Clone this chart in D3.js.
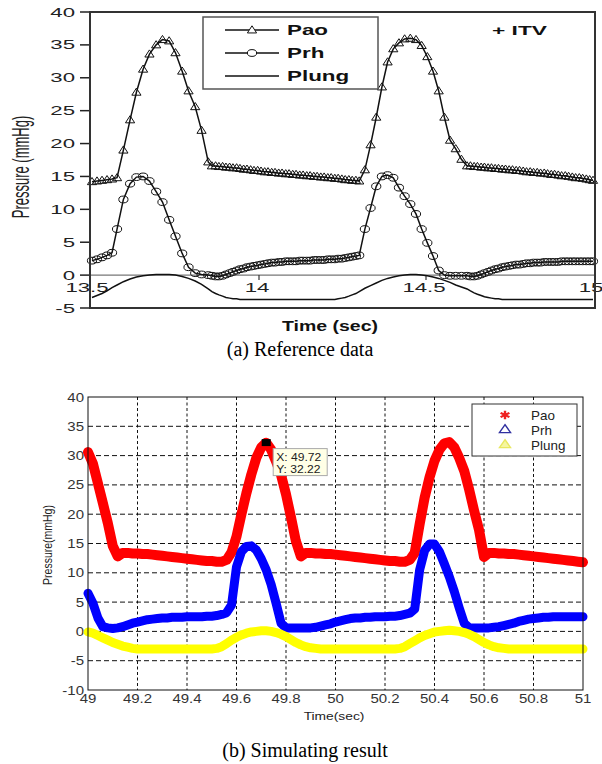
<!DOCTYPE html>
<html>
<head>
<meta charset="utf-8">
<script src="https://cdn.jsdelivr.net/npm/d3@7"></script>
<style>
  body { margin: 0; background: #fff; }
  svg { display: block; }
</style>
</head>
<body>
<svg id="chart" width="602" height="764"></svg>
<script>
// ---------------------------------
// Panel (a): reference data
// ---------------------------------
const seriesNames = ["Pao", "Prh", "Plung"];

// sample times (sec) shared by the three traces of panel (a)
const timeA = [
  13.500, 13.515, 13.530, 13.545, 13.560,
  13.575, 13.594, 13.614, 13.633, 13.653, 13.672, 13.692, 13.711, 13.731, 13.750,
  13.770, 13.789, 13.809, 13.828, 13.848,
  13.859, 13.870, 13.880, 13.891, 13.901, 13.912, 13.922, 13.933, 13.943, 13.954,
  13.964, 13.975, 13.985, 13.996, 14.006, 14.017, 14.027, 14.038, 14.048, 14.059,
  14.069, 14.080, 14.090, 14.101, 14.111, 14.122, 14.132, 14.143, 14.153, 14.164,
  14.174, 14.185, 14.195, 14.206, 14.216, 14.227, 14.237, 14.248, 14.258, 14.269,
  14.279, 14.290,
  14.300, 14.317, 14.334, 14.351, 14.368, 14.385, 14.402, 14.419, 14.436, 14.453,
  14.470, 14.487, 14.504, 14.521, 14.538, 14.555, 14.572, 14.589, 14.606, 14.623,
  14.633, 14.644, 14.654, 14.665, 14.675, 14.686, 14.696, 14.707, 14.717, 14.728,
  14.738, 14.749, 14.759, 14.770, 14.780, 14.791, 14.801, 14.812, 14.822, 14.833,
  14.843, 14.854, 14.864, 14.875, 14.885, 14.896, 14.906, 14.917, 14.927, 14.938,
  14.948, 14.959, 14.969, 14.980, 14.990, 15.000
];

const paoA = [
  14.2, 14.3, 14.4, 14.5, 14.6,
  14.8, 19.0, 23.6, 27.8, 31.3, 33.6, 35.0, 35.8, 35.6, 33.8,
  31.0, 28.0, 25.6, 22.0, 17.2,
  16.6, 16.6, 16.5, 16.5, 16.4, 16.4, 16.3, 16.3, 16.2, 16.1,
  16.1, 16.0, 15.9, 15.9, 15.8, 15.7, 15.7, 15.6, 15.6, 15.5,
  15.5, 15.4, 15.4, 15.3, 15.3, 15.2, 15.2, 15.1, 15.1, 15.0,
  15.0, 14.9, 14.9, 14.8, 14.8, 14.7, 14.7, 14.6, 14.5, 14.5,
  14.4, 14.4,
  14.3, 16.0, 19.8, 24.0, 28.6, 32.4, 34.4, 35.3, 35.9, 36.0,
  35.8, 34.9, 33.2, 31.0, 28.0, 24.0, 20.5, 19.2, 17.6, 16.6,
  16.6, 16.5, 16.5, 16.4, 16.4, 16.3, 16.3, 16.2, 16.2, 16.1,
  16.1, 16.0, 16.0, 15.9, 15.9, 15.8, 15.7, 15.7, 15.6, 15.6,
  15.5, 15.5, 15.4, 15.3, 15.3, 15.2, 15.1, 15.1, 15.0, 14.9,
  14.8, 14.8, 14.7, 14.6, 14.5, 14.4
];

const prhA = [
  2.2, 2.4, 2.7, 3.0, 3.4,
  7.0, 11.5, 13.9, 14.9, 15.0, 14.3, 12.7, 11.1, 8.4, 5.9,
  3.3, 1.2, 0.3, 0.1, 0.0,
  -0.1, -0.2, -0.2, -0.1, 0.1, 0.3, 0.5, 0.7, 0.9, 1.0,
  1.2, 1.3, 1.4, 1.5, 1.6, 1.7, 1.8, 1.9, 1.9, 2.0,
  2.0, 2.1, 2.1, 2.1, 2.1, 2.2, 2.2, 2.2, 2.2, 2.3,
  2.3, 2.3, 2.3, 2.4, 2.4, 2.4, 2.5, 2.5, 2.6, 2.7,
  2.8, 2.9,
  3.0, 7.0, 10.2, 13.5, 15.0, 15.2, 14.8, 13.3, 12.0, 10.8,
  9.3, 7.0, 4.9, 2.9, 0.7, 0.0, -0.1, -0.1, -0.1, -0.1,
  -0.2, -0.2, -0.1, 0.1, 0.3, 0.5, 0.7, 0.9, 1.0, 1.2,
  1.3, 1.4, 1.5, 1.6, 1.6, 1.7, 1.8, 1.8, 1.9, 1.9,
  1.9, 2.0, 2.0, 2.0, 2.0, 2.0, 2.1, 2.1, 2.1, 2.1,
  2.1, 2.1, 2.1, 2.1, 2.1, 2.1
];

const plungA = [
  -3.4, -3.1, -2.8, -2.4, -1.9,
  -1.5, -1.0, -0.6, -0.3, -0.1, 0.0, 0.1, 0.1, 0.1, 0.0,
  -0.2, -0.5, -0.9, -1.4, -2.1,
  -2.5, -2.8, -3.0, -3.2, -3.4, -3.5, -3.6, -3.6, -3.7, -3.7,
  -3.7, -3.7, -3.7, -3.7, -3.7, -3.7, -3.7, -3.7, -3.7, -3.7,
  -3.7, -3.7, -3.7, -3.7, -3.7, -3.7, -3.7, -3.7, -3.7, -3.7,
  -3.7, -3.7, -3.7, -3.7, -3.7, -3.7, -3.6, -3.5, -3.4, -3.2,
  -3.0, -2.8,
  -2.5, -2.0, -1.6, -1.2, -0.8, -0.5, -0.3, -0.1, 0.0, 0.1,
  0.1, 0.0, -0.1, -0.3, -0.5, -0.8, -1.1, -1.5, -1.8, -2.1,
  -2.4, -2.7, -2.9, -3.1, -3.3, -3.4, -3.5, -3.6, -3.6, -3.7,
  -3.7, -3.7, -3.7, -3.7, -3.7, -3.7, -3.7, -3.7, -3.7, -3.7,
  -3.7, -3.7, -3.7, -3.7, -3.7, -3.7, -3.7, -3.7, -3.7, -3.7,
  -3.7, -3.7, -3.7, -3.7, -3.7, -3.7
];

const yTicksA = [-5, 0, 5, 10, 15, 20, 25, 30, 35, 40];
const xTicksA = [13.5, 14, 14.5, 15];
const xTickLabelsA = ["13.5", "14", "14.5", "15"];

// ---------------------------------
// Panel (b): simulating result
// ---------------------------------
const timeB = [
  49.00, 49.02, 49.04, 49.06, 49.08, 49.10, 49.12, 49.14, 49.16, 49.18,
  49.20, 49.22, 49.24, 49.26, 49.28, 49.30, 49.32, 49.34, 49.36, 49.38,
  49.40, 49.42, 49.44, 49.46, 49.48, 49.50, 49.52, 49.54, 49.56, 49.58,
  49.60, 49.62, 49.64, 49.66, 49.68, 49.70, 49.72, 49.74, 49.76, 49.78,
  49.80, 49.82, 49.84, 49.86, 49.88, 49.90, 49.92, 49.94, 49.96, 49.98,
  50.00, 50.02, 50.04, 50.06, 50.08, 50.10, 50.12, 50.14, 50.16, 50.18,
  50.20, 50.22, 50.24, 50.26, 50.28, 50.30, 50.32, 50.34, 50.36, 50.38,
  50.40, 50.42, 50.44, 50.46, 50.48, 50.50, 50.52, 50.54, 50.56, 50.58,
  50.60, 50.62, 50.64, 50.66, 50.68, 50.70, 50.72, 50.74, 50.76, 50.78,
  50.80, 50.82, 50.84, 50.86, 50.88, 50.90, 50.92, 50.94, 50.96, 50.98,
  51.00
];

const paoB = [
  30.6, 28.6, 25.3, 21.9, 18.5, 14.6, 12.8, 13.4, 13.4, 13.3,
  13.3, 13.2, 13.2, 13.1, 13.0, 12.9, 12.8, 12.7, 12.6, 12.5,
  12.4, 12.3, 12.2, 12.1, 12.0, 12.0, 11.9, 11.9, 12.2, 13.5,
  16.2, 20.0, 23.6, 26.8, 29.6, 31.4, 32.2, 31.0, 29.0, 26.7,
  23.4, 19.5, 15.4, 12.8, 13.4, 13.4, 13.3, 13.3, 13.2, 13.2,
  13.1, 13.0, 12.9, 12.8, 12.7, 12.6, 12.5, 12.4, 12.3, 12.2,
  12.1, 12.0, 12.0, 11.9, 11.9, 12.2, 13.4, 18.3, 22.8, 26.3,
  29.1, 31.0, 32.1, 32.3, 31.4, 29.6, 27.4, 24.2, 20.6, 17.3,
  12.7, 13.4, 13.4, 13.3, 13.3, 13.2, 13.2, 13.1, 13.0, 12.9,
  12.8, 12.7, 12.6, 12.5, 12.4, 12.3, 12.2, 12.1, 12.0, 11.9,
  11.8
];

const prhB = [
  6.5, 4.8, 2.3, 0.8, 0.6, 0.5, 0.6, 0.8, 1.1, 1.4,
  1.6, 1.8, 2.0, 2.1, 2.2, 2.3, 2.3, 2.4, 2.4, 2.4,
  2.5, 2.5, 2.5, 2.5, 2.6, 2.6, 2.7, 2.9, 3.2, 4.5,
  11.0, 13.6, 14.5, 14.6, 13.9, 12.4, 10.5, 8.0, 4.8, 1.4,
  0.6, 0.6, 0.6, 0.6, 0.6, 0.6, 0.7, 0.9, 1.1, 1.3,
  1.6, 1.8, 2.0, 2.2, 2.3, 2.3, 2.4, 2.4, 2.5, 2.5,
  2.5, 2.6, 2.6, 2.7, 2.9, 3.1, 3.8, 10.5, 13.8, 14.9,
  14.9, 13.6, 11.5, 9.3, 6.8, 4.0, 1.4, 0.6, 0.6, 0.6,
  0.6, 0.6, 0.7, 0.8, 1.0, 1.2, 1.4, 1.7, 1.9, 2.1,
  2.2, 2.3, 2.4, 2.4, 2.5, 2.5, 2.5, 2.5, 2.5, 2.5,
  2.5
];

const plungB = [
  -0.1, -0.3, -0.7, -1.1, -1.5, -1.9, -2.2, -2.5, -2.7, -2.9,
  -3.0, -3.0, -3.0, -3.0, -3.0, -3.0, -3.0, -3.0, -3.0, -3.0,
  -3.0, -3.0, -3.0, -3.0, -3.0, -3.0, -2.9, -2.6, -2.1, -1.5,
  -1.0, -0.6, -0.3, -0.1, 0.0, 0.1, 0.1, 0.0, -0.2, -0.5,
  -0.9, -1.4, -1.9, -2.3, -2.6, -2.8, -2.9, -3.0, -3.0, -3.0,
  -3.0, -3.0, -3.0, -3.0, -3.0, -3.0, -3.0, -3.0, -3.0, -3.0,
  -3.0, -3.0, -3.0, -2.9, -2.6, -2.1, -1.6, -1.1, -0.7, -0.4,
  -0.1, 0.0, 0.1, 0.2, 0.1, 0.0, -0.2, -0.5, -0.9, -1.4,
  -1.9, -2.3, -2.6, -2.8, -2.9, -3.0, -3.0, -3.0, -3.0, -3.0,
  -3.0, -3.0, -3.0, -3.0, -3.0, -3.0, -3.0, -3.0, -3.0, -3.0,
  -3.0
];

const seriesColorsB = ["#ff0000", "#0000ff", "#ffff00"];
const yTicksB = [-10, -5, 0, 5, 10, 15, 20, 25, 30, 35, 40];
const xTicksB = [49, 49.2, 49.4, 49.6, 49.8, 50, 50.2, 50.4, 50.6, 50.8, 51];
const tipT = 49.72, tipV = 32.22;

const SANS = "'Liberation Sans', Arial, Helvetica, sans-serif";
const SERIF = "'Liberation Serif', 'Times New Roman', serif";

const svg = d3.select("#chart");
svg.append("rect").attr("width", 602).attr("height", 764).attr("fill", "#fff");

// stretched text helper (the scanned figure is wider than it is tall)
function addText(parent, x, y, str, o) {
    return parent.append("text")
        .attr("transform", `translate(${x},${y}) scale(${o.sx || 1},1)` + (o.rotate ? " rotate(-90)" : ""))
        .attr("text-anchor", o.anchor || "start")
        .attr("fill", o.fill || "#000")
        .style("font-family", o.family || SANS)
        .style("font-size", o.size + "px")
        .style("font-weight", o.weight || "normal")
        .text(str);
}

drawReference();
drawSimulation();

// captions
addText(svg, 300, 356, "(a) Reference data", { size: 20, anchor: "middle", family: SERIF });
addText(svg, 305, 757, "(b) Simulating result", { size: 20, anchor: "middle", family: SERIF });

// --- PANEL (a) ---
function drawReference() {
    const g = svg.append("g");
    const x = d3.scaleLinear().domain([13.5, 15]).range([92, 593]);
    const y = d3.scaleLinear().domain([-5, 40]).range([308, 12]);
    const left = 90, right = 595, top = 12, bottom = 308;

    // zero line
    g.append("line")
        .attr("x1", left).attr("x2", right)
        .attr("y1", y(0)).attr("y2", y(0))
        .attr("stroke", "#777").attr("stroke-width", 1.2);

    // y axis ticks + labels
    yTicksA.forEach(v => {
        g.append("line").attr("x1", left - 10).attr("x2", left)
            .attr("y1", y(v)).attr("y2", y(v))
            .attr("stroke", "#222").attr("stroke-width", 1.5);
        addText(g, left - 15, y(v) + 4.5, String(v), { size: 12, sx: 1.85, anchor: "end", fill: "#222" });
    });

    // x ticks sit on the zero line
    xTicksA.forEach((t, i) => {
        if (i > 0 && i < xTicksA.length - 1) {
            g.append("line").attr("x1", x(t)).attr("x2", x(t))
                .attr("y1", y(0)).attr("y2", y(0) + 5)
                .attr("stroke", "#333").attr("stroke-width", 1.2);
        }
        addText(g, x(t) - (i === 0 ? 5 : 2), y(0) + 17, xTickLabelsA[i], { size: 12, sx: 1.85, anchor: "middle", fill: "#222" });
    });

    const rows = timeA.map((t, i) => ({ t, pao: paoA[i], prh: prhA[i], plung: plungA[i] }));
    const lineFor = key => d3.line().x(d => x(d.t)).y(d => y(d[key]));

    ["pao", "prh", "plung"].forEach(key => {
        g.append("path")
            .datum(rows)
            .attr("fill", "none")
            .attr("stroke", "#111")
            .attr("stroke-width", 1.5)
            .attr("d", lineFor(key));
    });

    // triangle markers on Pao
    g.selectAll(".tri")
        .data(rows)
        .enter()
        .append("path")
        .attr("d", d => triangle(x(d.t), y(d.pao), 4.6, 4.2))
        .attr("fill", "none")
        .attr("stroke", "#111")
        .attr("stroke-width", 1);

    // circle markers on Prh
    g.selectAll(".circ")
        .data(rows)
        .enter()
        .append("ellipse")
        .attr("cx", d => x(d.t))
        .attr("cy", d => y(d.prh))
        .attr("rx", 4.6).attr("ry", 3.4)
        .attr("fill", "none")
        .attr("stroke", "#111")
        .attr("stroke-width", 1);

    // frame
    g.append("rect")
        .attr("x", left).attr("y", top)
        .attr("width", right - left).attr("height", bottom - top)
        .attr("fill", "none").attr("stroke", "#333").attr("stroke-width", 2);

    // legend
    const lg = g.append("g");
    lg.append("rect").attr("x", 203).attr("y", 17).attr("width", 175).attr("height", 72)
        .attr("fill", "#fff").attr("stroke", "#555").attr("stroke-width", 1.5);
    seriesNames.forEach((name, i) => {
        const ly = 30 + i * 23;
        lg.append("line").attr("x1", 225).attr("x2", 279).attr("y1", ly).attr("y2", ly)
            .attr("stroke", "#111").attr("stroke-width", 1.4);
        if (i === 0) {
            lg.append("path").attr("d", triangle(252, ly, 4.6, 4.2))
                .attr("fill", "#fff").attr("stroke", "#111");
        } else if (i === 1) {
            lg.append("ellipse").attr("cx", 252).attr("cy", ly).attr("rx", 4.6).attr("ry", 3.4)
                .attr("fill", "#fff").attr("stroke", "#111");
        }
        addText(lg, 287, ly + 5, name, { size: 14, sx: 1.6, weight: "bold", fill: "#111" });
    });

    addText(g, 492, 35, "+ ITV", { size: 13, sx: 1.75, weight: "bold", fill: "#111" });
    addText(g, 330, 331, "Time (sec)", { size: 15, sx: 1.3, weight: "bold", anchor: "middle", fill: "#111" });
    addText(g, 29, 167, "Pressure (mmHg)", { size: 13, sx: 1.8, rotate: true, anchor: "middle", fill: "#222" });
}

function triangle(cx, cy, hw, h) {
    return `M${cx},${cy - h}L${cx + hw},${cy + h * 0.7}L${cx - hw},${cy + h * 0.7}Z`;
}

// --- PANEL (b) ---
function drawSimulation() {
    const g = svg.append("g");
    const x = d3.scaleLinear().domain([49, 51]).range([88, 583]);
    const y = d3.scaleLinear().domain([-10, 40]).range([690, 397]);
    const [left, right] = x.range();
    const [bottom, top] = y.range();

    // dashed grid
    xTicksB.slice(1, -1).forEach(t => {
        g.append("line").attr("x1", x(t)).attr("x2", x(t)).attr("y1", top).attr("y2", bottom)
            .attr("stroke", "#111").attr("stroke-width", 1).attr("stroke-dasharray", "3,2.5");
    });
    yTicksB.slice(1, -1).forEach(v => {
        g.append("line").attr("x1", left).attr("x2", right).attr("y1", y(v)).attr("y2", y(v))
            .attr("stroke", "#111").attr("stroke-width", 1).attr("stroke-dasharray", "5,3");
    });

    // tick labels
    yTicksB.forEach(v => {
        addText(g, left - 4, y(v) + 4.5, String(v), { size: 12, sx: 1.25, anchor: "end", fill: "#333" });
    });
    xTicksB.forEach(t => {
        addText(g, x(t), bottom + 13, String(t), { size: 12, sx: 1.25, anchor: "middle", fill: "#333" });
    });

    addText(g, 334, 720, "Time(sec)", { size: 11.5, sx: 1.2, anchor: "middle", fill: "#222" });
    addText(g, 52, 545, "Pressure(mmHg)", { size: 10.5, sx: 1.3, rotate: true, anchor: "middle", fill: "#222" });

    // thick simulated traces
    const seriesB = [paoB, prhB, plungB];
    const widths = [10, 9, 9];
    seriesB.forEach((vals, k) => {
        const pts = timeB.map((t, i) => [t, vals[i]]);
        g.append("path")
            .datum(pts)
            .attr("fill", "none")
            .attr("stroke", seriesColorsB[k])
            .attr("stroke-width", widths[k])
            .attr("stroke-linejoin", "round")
            .attr("stroke-linecap", "round")
            .attr("d", d3.line().x(d => x(d[0])).y(d => y(d[1])));
    });

    // frame
    g.append("rect").attr("x", left).attr("y", top)
        .attr("width", right - left).attr("height", bottom - top)
        .attr("fill", "none").attr("stroke", "#111").attr("stroke-width", 1);

    // data tip
    g.append("rect").attr("x", x(tipT) - 4.5).attr("y", y(tipV) - 3.5)
        .attr("width", 9).attr("height", 7).attr("fill", "#000");
    const tx = x(tipT) + 7, ty = y(tipV) + 6;
    g.append("rect").attr("x", tx).attr("y", ty).attr("width", 54).attr("height", 27)
        .attr("fill", "#ffffe6").attr("stroke", "#aaa").attr("stroke-width", 1);
    addText(g, tx + 3, ty + 12, "X: " + tipT.toFixed(2), { size: 11, sx: 1.1, fill: "#222" });
    addText(g, tx + 3, ty + 24, "Y: " + tipV.toFixed(2), { size: 11, sx: 1.1, fill: "#222" });

    // legend
    const lg = g.append("g");
    lg.append("rect").attr("x", 472).attr("y", 404).attr("width", 105).attr("height", 52)
        .attr("fill", "#fff").attr("stroke", "#333").attr("stroke-width", 1);
    const markerStroke = ["#ee2020", "#3030a0", "#e8e860"];
    const symbols = [d3.symbolAsterisk || d3.symbolCross, d3.symbolTriangle, d3.symbolTriangle];
    seriesNames.forEach((name, i) => {
        const ly = 415 + i * 15;
        lg.append("path")
            .attr("transform", `translate(505,${ly}) scale(1.2,1)`)
            .attr("d", d3.symbol().type(symbols[i]).size(i === 0 ? 50 : 38)())
            .attr("fill", i === 2 ? "#f6f6a0" : "none")
            .attr("stroke", markerStroke[i])
            .attr("stroke-width", i === 0 ? 2 : 1.2);
        addText(lg, 531, ly + 4.5, name, { size: 12, sx: 1.12, fill: "#222" });
    });
}
</script>
</body>
</html>
